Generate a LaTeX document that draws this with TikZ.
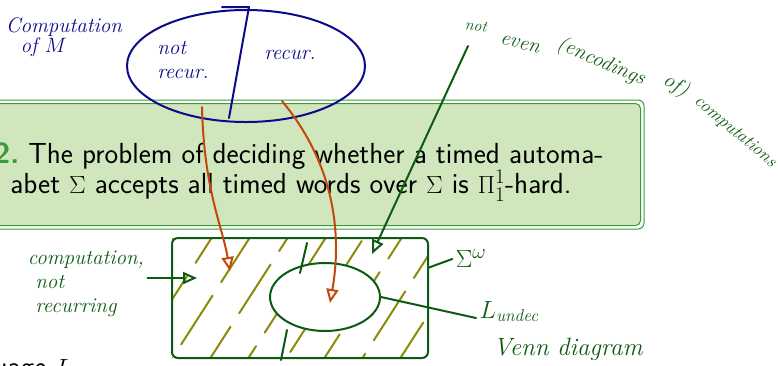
\documentclass[tikz,border=0pt]{standalone}
\usepackage{amsmath,amssymb}
\usepackage{tikz}
\usetikzlibrary{positioning}
\usetikzlibrary{calc}
\usetikzlibrary{arrows.meta}
\usetikzlibrary{shapes.geometric}

\definecolor{inkblue}{HTML}{0B0B8A}
\definecolor{inkgreen}{HTML}{0D5A12}
\definecolor{inkorange}{HTML}{C2480E}
\definecolor{hatcholive}{HTML}{8C8A0C}
\definecolor{boxfill}{HTML}{D0E6BD}
\definecolor{boxline}{HTML}{3A9A3A}

\tikzset{
  hand/.style={font=\fontsize{21}{23}\selectfont\itshape},
  inkline/.style={line width=2pt, line cap=round, line join=round},
  openhead/.style={-{Triangle[open,length=14pt,width=12pt]}},
  slide/.style={font=\sffamily\fontsize{29}{35}\selectfont},
}

\begin{document}
\begin{tikzpicture}[x=1pt,y=-1pt]
            \useasboundingbox (0,0) rectangle (778,365);
            % theorem block of the slide
            \draw[boxline, line width=1pt, rounded corners=6pt] (-20,100) rectangle (644,229);
            \draw[boxline, line width=1pt, fill=boxfill, rounded corners=5pt] (-20,103.5) rectangle (640.5,225.5);
            \node[slide, anchor=base east] (thmA) at (607,163) {{\color{boxline}\bfseries 2.}\ The problem of deciding whether a timed automa-};
            \node[slide, anchor=base east] (thmB) at (575,193) {abet $\Sigma$ accepts all timed words over $\Sigma$ is $\Pi^1_1$-hard.};
            \node[slide, anchor=base west] (lang) at (-10,376) {uage $L$};
            % computations of M
            \node[draw=inkblue, inkline, ellipse, minimum width=238pt, minimum height=112pt, inner sep=0] (compset) at (246,66) {};
            \coordinate (divtop) at (249,7);
            \coordinate (divbot) at (229,118);
            \draw[inkblue, inkline] (222,7) -- (divtop) -- (divbot);
            \node[hand, inkblue] (compM) at (64,38) {\begin{tabular}{@{}l@{}}Computation\\[-3pt] \ \ of $M$\end{tabular}};
            \node[hand, inkblue] (notrec) at (183,62) {\begin{tabular}{@{}l@{}}not\\[1pt]recur.\end{tabular}};
            \node[hand, inkblue] (rec) at (290,55) {recur.};
            % Sigma^omega with hatching
            \begin{scope}[even odd rule]
            \clip (172,238) rectangle (428,358) (325,297) ellipse [x radius=55pt, y radius=34pt];
            \foreach \i [evaluate=\i as \ph using {mod(\i*23,60)}] in {0,...,9}
              \draw[hatcholive, line width=2pt, line cap=round, dash pattern=on 58pt off 16pt, dash phase=\ph pt] (90+\i*38,368) -- ++(90,-140);
            \end{scope}
            \node[draw=inkgreen, inkline, rounded corners=6pt, minimum width=256pt, minimum height=120pt, inner sep=0] (sigmaw) at (300,298) {};
            \node[draw=inkgreen, inkline, ellipse, minimum width=110pt, minimum height=68pt, inner sep=0] (undec) at (325,297) {};
            \draw[inkgreen, inkline] (307,243) -- (300,273);
            \draw[inkgreen, inkline] (287,330) -- (281,360);
            % labels
            \node[inkgreen, font=\fontsize{28}{30}\selectfont] (sigmalbl) at (471,259) {$\Sigma^\omega$};
            \draw[inkgreen, inkline] ($(sigmaw.north east)!0.25!(sigmaw.south east)$) -- (sigmalbl.west);
            \node[inkgreen, font=\fontsize{27}{30}\selectfont, anchor=base west] (undeclbl) at (476,318) {$L_{\mathit{undec}}$};
            \draw[inkgreen, inkline] (undec.east) -- (undeclbl.base west);
            \node[hand, inkgreen, font=\fontsize{25}{27}\selectfont\itshape] (venn) at (568,349) {Venn diagram};
            \node[hand, inkgreen] (compnr) at (86,284) {\begin{tabular}{@{}l@{}}computation,\\[1pt]\ not\\[1pt]\ recurring\end{tabular}};
            \coordinate (nrin) at (197,278);
            \draw[inkgreen, inkline, openhead] (compnr.east |- nrin) -- (nrin);
            % not even encodings
            \node[hand, inkgreen, font=\fontsize{16}{18}\selectfont\itshape, rotate=-8] (nev1) at (476,26) {not};
            \node[hand, inkgreen, rotate=-14] (nev2) at (520,44) {even};
            \node[hand, inkgreen, rotate=-23] (nev3) at (601,62) {(encodings};
            \node[hand, inkgreen, rotate=-30] (nev4) at (676,86) {of)};
            \node[hand, inkgreen, font=\fontsize{18}{20}\selectfont\itshape, rotate=-40] (nev5) at (735,132) {computations};
            \coordinate (nevsrc) at (468,46);
            \coordinate (nevtip) at (372,254);
            \draw[inkgreen, inkline, openhead] (nevsrc) -- (nevtip);
            % pointers from the two parts
            \coordinate (nrsrc) at (202,107);
            \coordinate (nrtip) at (230,271);
            \draw[inkorange, inkline, openhead] (nrsrc) .. controls (204,190) and (222,225) .. (nrtip);
            \coordinate (rsrc) at (282,101);
            \coordinate (rtip) at (330,303);
            \draw[inkorange, inkline, openhead] (rsrc) .. controls (335,165) and (342,235) .. (rtip);
        \end{tikzpicture}
\end{document}
